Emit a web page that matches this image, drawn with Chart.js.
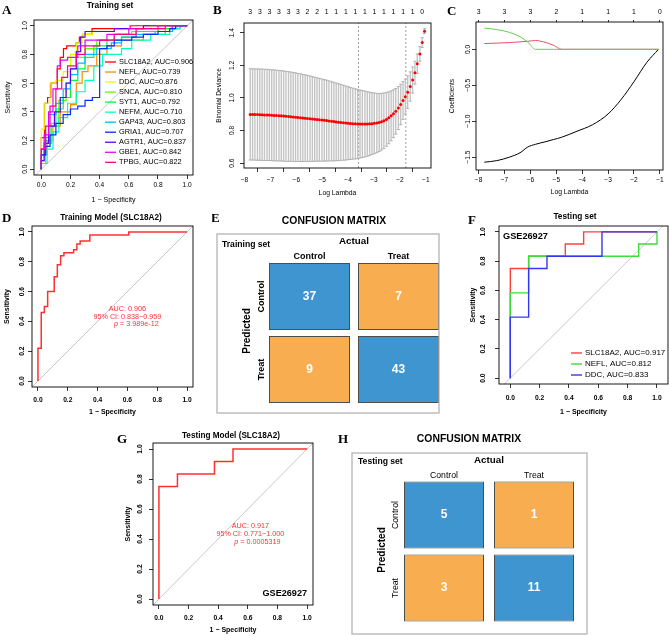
<!DOCTYPE html>
<html>
<head>
<meta charset="utf-8">
<title>ROC, LASSO and confusion matrix panels</title>
<script src="https://cdn.jsdelivr.net/npm/chart.js@4.4.1/dist/chart.umd.min.js"></script>
<style>
  html, body { margin: 0; padding: 0; background: #fff; }
  #fig { position: relative; width: 669px; height: 636px; overflow: hidden; background: #fff; }
  #fig canvas { position: absolute; }
</style>
</head>
<body>
<div id="fig"></div>
<script>
// ---------- data ----------
const rocTicks = [0, 0.2, 0.4, 0.6, 0.8, 1]

// A: training set ROC per gene, corners as [1 - specificity, sensitivity]
const trainGenes = ['SLC18A2', 'NEFL', 'DDC', 'SNCA', 'SYT1', 'NEFM', 'GAP43', 'GRIA1', 'AGTR1', 'GBE1', 'TPBG']
const trainAuc = ['0.906', '0.739', '0.876', '0.810', '0.792', '0.710', '0.803', '0.707', '0.837', '0.842', '0.822']
const geneColors = ['#FF0000', '#FF8B00', '#E8FF00', '#5DFF00', '#00FF2E', '#00FFB9',
  '#00B9FF', '#002EFF', '#5D00FF', '#E800FF', '#FF008B']

const rocSLC18A2 = [[0, 0], [0, .22], [.022, .46], [.043, .50], [.065, .60], [.109, .70], [.130, .78],
  [.152, .84], [.174, .86], [.239, .88], [.261, .92], [.283, .94], [.348, .98], [.609, 1], [1, 1]]
const rocNEFL = [[0, 0], [0, .1], [.04, .2], [.08, .3], [.13, .4], [.2, .45], [.24, .6], [.28, .68],
  [.32, .72], [.38, .8], [.45, .86], [.55, .9], [.7, .94], [.85, .98], [.89, 1], [1, 1]]
const rocDDC = [[0, 0], [0, .28], [.02, .46], [.06, .6], [.1, .62], [.15, .68], [.2, .8], [.24, .88],
  [.28, .94], [.35, .96], [.5, .98], [.75, 1], [1, 1]]
const rocSNCA = [[0, 0], [0, .04], [.03, .18], [.07, .32], [.12, .48], [.17, .6], [.2, .7], [.24, .78],
  [.3, .84], [.38, .9], [.5, .94], [.62, .96], [.8, .98], [.93, 1], [1, 1]]
const rocSYT1 = [[0, 0], [0, .06], [.02, .2], [.06, .3], [.1, .42], [.15, .5], [.2, .62], [.25, .7],
  [.3, .78], [.36, .86], [.45, .9], [.55, .92], [.65, .96], [.8, .98], [.95, 1], [1, 1]]
const rocNEFM = [[0, 0], [0, .04], [.04, .14], [.08, .26], [.12, .36], [.18, .46], [.24, .54], [.3, .62],
  [.36, .72], [.42, .8], [.55, .84], [.62, .9], [.75, .94], [.88, .98], [.95, 1], [1, 1]]
const rocGAP43 = [[0, 0], [0, .1], [.03, .22], [.05, .38], [.1, .46], [.15, .56], [.2, .66], [.25, .74],
  [.3, .8], [.38, .84], [.48, .88], [.55, .92], [.65, .94], [.78, .96], [.9, 1], [1, 1]]
const rocGRIA1 = [[0, 0], [0, .1], [.03, .16], [.06, .24], [.1, .32], [.15, .38], [.2, .42], [.25, .44],
  [.3, .48], [.35, .5], [.4, .84], [.45, .86], [.5, .9], [.62, .92], [.7, .94], [.8, .96], [.88, .98],
  [.92, 1], [1, 1]]
const rocAGTR1 = [[0, 0], [0, .06], [.02, .18], [.05, .3], [.09, .4], [.13, .5], [.17, .6], [.2, .7],
  [.24, .82], [.27, .92], [.3, .96], [.5, .98], [.7, 1], [1, 1]]
const rocGBE1 = [[0, 0], [0, .14], [.02, .24], [.05, .4], [.08, .56], [.11, .72], [.13, .76], [.18, .78],
  [.25, .86], [.3, .9], [.45, .94], [.6, .98], [.8, 1], [1, 1]]
const rocTPBG = [[0, 0], [0, .14], [.03, .3], [.06, .44], [.1, .56], [.14, .64], [.18, .72], [.24, .8],
  [.3, .86], [.4, .9], [.5, .94], [.65, .98], [.85, 1], [1, 1]]
const trainCurves = [rocSLC18A2, rocNEFL, rocDDC, rocSNCA, rocSYT1, rocNEFM, rocGAP43, rocGRIA1,
  rocAGTR1, rocGBE1, rocTPBG]
const trainStats = ['AUC: 0.906', '95% CI: 0.838\u22120.959', '3.989e-12']

// F / G: testing set (GSE26927)
const testGenes = ['SLC18A2', 'NEFL', 'DDC']
const testAuc = ['0.917', '0.812', '0.833']
const testColors = ['#FF4040', '#3CDC3C', '#3636F2']
const testSLC18A2 = [[0, 0], [0, .75], [.125, .833], [.375, .917], [.5, 1], [1, 1]]
const testNEFL = [[0, 0], [0, .583], [.125, .833], [.875, .917], [1, 1]]
const testDDC = [[0, 0], [0, .417], [.125, .75], [.25, .833], [.625, 1], [1, 1]]
const testStats = ['AUC: 0.917', '95% CI: 0.771\u22121.000', '0.0005319']

// B: cross-validated binomial deviance
const cvLogLambda = [
  -7.78, -7.69, -7.60, -7.50, -7.41, -7.32, -7.23, -7.13, -7.04, -6.95,
  -6.86, -6.77, -6.67, -6.58, -6.49, -6.40, -6.30, -6.21, -6.12, -6.03,
  -5.94, -5.84, -5.75, -5.66, -5.57, -5.47, -5.38, -5.29, -5.20, -5.11,
  -5.01, -4.92, -4.83, -4.74, -4.64, -4.55, -4.46, -4.37, -4.28, -4.18,
  -4.09, -4.00, -3.91, -3.82, -3.72, -3.63, -3.54, -3.45, -3.35, -3.26,
  -3.17, -3.08, -2.99, -2.89, -2.80, -2.71, -2.62, -2.52, -2.43, -2.34,
  -2.25, -2.16, -2.06, -1.97, -1.88, -1.79, -1.70, -1.60, -1.51, -1.42,
  -1.33, -1.23, -1.14, -1.05]
const cvMean = [
  0.899, 0.899, 0.898, 0.898, 0.897, 0.897, 0.896, 0.896, 0.895, 0.894,
  0.893, 0.892, 0.891, 0.890, 0.889, 0.887, 0.886, 0.885, 0.883, 0.882,
  0.880, 0.879, 0.877, 0.876, 0.874, 0.873, 0.871, 0.869, 0.868, 0.866,
  0.864, 0.863, 0.861, 0.859, 0.857, 0.855, 0.853, 0.851, 0.850, 0.848,
  0.846, 0.845, 0.843, 0.842, 0.841, 0.840, 0.840, 0.840, 0.840, 0.840,
  0.841, 0.842, 0.844, 0.846, 0.849, 0.854, 0.860, 0.868, 0.878, 0.890,
  0.903, 0.918, 0.938, 0.960, 0.984, 1.008, 1.035, 1.070, 1.110, 1.155,
  1.210, 1.270, 1.340, 1.410]
const cvSd = [
  0.280, 0.280, 0.280, 0.280, 0.280, 0.280, 0.280, 0.280, 0.279, 0.279,
  0.279, 0.278, 0.278, 0.277, 0.277, 0.276, 0.275, 0.274, 0.273, 0.272,
  0.270, 0.269, 0.267, 0.266, 0.264, 0.262, 0.260, 0.258, 0.256, 0.254,
  0.252, 0.250, 0.248, 0.246, 0.243, 0.241, 0.238, 0.236, 0.233, 0.230,
  0.227, 0.224, 0.221, 0.218, 0.215, 0.212, 0.208, 0.205, 0.202, 0.198,
  0.194, 0.190, 0.186, 0.182, 0.178, 0.174, 0.170, 0.165, 0.159, 0.153,
  0.147, 0.140, 0.132, 0.124, 0.116, 0.108, 0.100, 0.090, 0.080, 0.070,
  0.060, 0.045, 0.030, 0.015]
const cvNzeroTop = ['3', '3', '3', '3', '3', '3', '2', '2', '1', '1', '1', '1', '1', '1', '1', '1', '1', '1', '0']
const cvLambdaMin = -3.60
const cvLambda1se = -1.77
const lambdaTicks = [-8, -7, -6, -5, -4, -3, -2, -1]
const devianceTicks = [0.6, 0.8, 1.0, 1.2, 1.4]

// C: coefficient paths
const pathLogLambda = [-7.78, -7.3, -6.8, -6.4, -6.1, -5.8, -5.4, -5.1, -4.8, -4.2, -3.6, -3.0, -2.5, -2.0, -1.5, -1.05]
const pathBlack = [-1.571, -1.55, -1.50, -1.44, -1.36, -1.322, -1.285, -1.255, -1.225, -1.14, -1.05, -0.90, -0.70, -0.45, -0.18, 0]
const pathRed = [0.08, 0.086, 0.094, 0.104, 0.112, 0.122, 0.094, 0.055, 0, 0, 0, 0, 0, 0, 0, 0]
const pathGreen = [0.295, 0.275, 0.235, 0.175, 0.10, 0, 0, 0, 0, 0, 0, 0, 0, 0, 0, 0]
const pathDf = ['3', '3', '3', '2', '1', '1', '1', '0']
const coefTicks = [-1.5, -1.0, -0.5, 0]

// E / H: confusion matrices, rows = predicted, columns = actual
const cmLabels = ['Control', 'Treat']
const cmTrain = [[37, 7], [9, 43]]
const cmTest = [[5, 1], [3, 11]]

// ---------- setup ----------
const SANS = '"Liberation Sans", Arial, Helvetica, sans-serif'
const SERIF = '"Liberation Serif", "Times New Roman", Times, serif'
Chart.defaults.font.family = SANS
Chart.defaults.color = '#000'
Chart.defaults.animation = false
Chart.defaults.responsive = false
Chart.defaults.plugins.legend.display = false
Chart.defaults.plugins.tooltip.enabled = false

const fig = document.getElementById('fig')
const decor = {}
const minus = s => String(s).replace('-', '\u2212')
const fnt = (size, weight, family) => `${weight || 'normal'} ${size}px ${family || SANS}`
const cfont = (size, weight) => ({ family: SANS, size, weight: weight || 'normal' })

function place(id, r) {
  const c = document.createElement('canvas')
  c.id = id
  c.width = r.w
  c.height = r.h
  c.style.left = r.x + 'px'
  c.style.top = r.y + 'px'
  c.style.width = r.w + 'px'
  c.style.height = r.h + 'px'
  fig.appendChild(c)
  return c
}

function label(ctx, text, x, y, font, color, align, rot) {
  ctx.save()
  ctx.translate(x, y)
  if (rot) ctx.rotate(rot)
  ctx.font = font
  ctx.fillStyle = color || '#000'
  ctx.textAlign = align || 'center'
  ctx.textBaseline = 'middle'
  ctx.fillText(text, 0, 0)
  ctx.restore()
}

// centred text made of plain / italic pieces
function rich(ctx, segs, cx, cy, size, color) {
  const fonts = segs.map(s => fnt(size, s.it ? 'italic' : 'normal'))
  const widths = segs.map((s, i) => { ctx.font = fonts[i]; return ctx.measureText(s.t).width })
  let x = cx - widths.reduce((a, b) => a + b, 0) / 2
  segs.forEach((s, i) => { label(ctx, s.t, x, cy, fonts[i], color, 'left'); x += widths[i] })
}

Chart.register({
  id: 'decor',
  afterDraw(chart) {
    const d = decor[chart.canvas.id]
    if (!d) return
    const ctx = chart.ctx
    const a = chart.chartArea
    const ox = d.region.x, oy = d.region.y
    ctx.save()
    if (d.box) {
      ctx.strokeStyle = '#000'
      ctx.lineWidth = 0.9
      ctx.strokeRect(a.left, a.top, a.right - a.left, a.bottom - a.top)
    }
    if (d.frame) {
      const f = d.frame
      ctx.strokeStyle = '#B4B4B4'
      ctx.lineWidth = 1.3
      ctx.strokeRect(f.l - ox, f.t - oy, f.r - f.l, f.b - f.t)
    }
    if (d.yLabels) {
      const s = chart.scales.y
      s.ticks.forEach(t => label(ctx, d.yLabels.fmt(t.value), d.yLabels.x - ox,
        s.getPixelForValue(t.value), d.yLabels.font, '#000', 'center', -Math.PI / 2))
    }
    if (d.legend) {
      const l = d.legend
      l.items.forEach((it, i) => {
        const y = l.y0 + i * l.dy - oy
        ctx.strokeStyle = it.color
        ctx.lineWidth = l.lw
        ctx.beginPath()
        ctx.moveTo(l.x1 - ox, y)
        ctx.lineTo(l.x2 - ox, y)
        ctx.stroke()
        label(ctx, it.label, l.tx - ox, y, l.font, '#000', 'left')
      })
    }
    if (d.notes) {
      const xs = chart.scales.x, ys = chart.scales.y
      d.notes.forEach(n => rich(ctx, n.segs, xs.getPixelForValue(n.x), ys.getPixelForValue(n.y), 7.2, '#FF3030'))
    }
    if (d.cells) {
      const c = d.cells
      const xs = chart.scales.x, ys = chart.scales.y
      c.counts.forEach((row, r) => {
        const meta = chart.getDatasetMeta(r)
        row.forEach((n, j) => {
          const p = meta.data[j].getCenterPoint()
          label(ctx, String(n), p.x, p.y, fnt(12, 'bold'), '#fff')
        })
      })
      cmLabels.forEach((name, j) => label(ctx, name, xs.getPixelForTick(j), c.colY - oy, c.labelFont))
      cmLabels.forEach((name, r) => label(ctx, name, c.rowX - ox,
        ys.getPixelForValue(cmLabels.length - 1 - r), c.labelFont, '#000', 'center', -Math.PI / 2))
    }
    ;(d.texts || []).forEach(t => label(ctx, t.text, t.x - ox, t.y - oy, t.font, t.color, t.align, t.rot))
    ctx.restore()
  }
})

// R-style axis: ticks only, labels, fixed size
function axis(o) {
  const horiz = o.position === 'top' || o.position === 'bottom'
  const ticks = { display: !o.hideLabels, autoSkip: false, maxRotation: 0, minRotation: 0,
    padding: o.pad || 0, color: '#000', font: o.font }
  if (o.fmt) ticks.callback = o.fmt
  return {
    type: 'linear', position: o.position, min: o.min, max: o.max, offset: false, bounds: 'data',
    afterBuildTicks: s => { s.ticks = o.at.map(v => ({ value: v })) },
    afterFit: s => { if (horiz) s.height = o.size; else s.width = o.size },
    ticks,
    grid: { display: !!o.tick, drawOnChartArea: false, drawTicks: !!o.tick, tickLength: o.tick || 0,
      color: '#000', lineWidth: 0.8 },
    border: { display: false },
    title: o.title
      ? { display: true, text: o.title, color: '#000', font: o.titleFont,
          padding: o.position === 'bottom' ? { top: 0, bottom: o.titlePad } : { top: o.titlePad, bottom: 0 } }
      : { display: false }
  }
}

function rocChart(id, p) {
  const r = p.region, b = p.box
  const wt = p.bold ? 'bold' : 'normal'
  const lh = p.axisSize * 1.2
  const datasets = p.curves.map((c, i) => ({
    type: 'line',
    data: c.map(([x, y]) => ({ x, y })),
    borderColor: p.colors[i],
    borderWidth: p.lineWidth,
    pointRadius: 0,
    stepped: 'before',
    order: p.curves.length - i
  }))
  datasets.push({
    type: 'line',
    data: [{ x: p.xMin, y: p.xMin }, { x: p.xMax, y: p.xMax }],
    borderColor: '#C8C8C8', borderWidth: 1, pointRadius: 0, order: 100
  })
  decor[id] = {
    region: r, box: true, texts: p.texts, legend: p.legend, notes: p.notes,
    yLabels: { x: p.yLabelX, font: fnt(p.tickSize, wt), fmt: v => v.toFixed(1) }
  }
  new Chart(place(id, r), {
    type: 'scatter',
    data: { datasets },
    options: {
      layout: { padding: { left: 0, top: b.t - r.y, right: r.x + r.w - b.r, bottom: 0 } },
      scales: {
        x: axis({ position: 'bottom', min: p.xMin, max: p.xMax, at: rocTicks, fmt: v => v.toFixed(1),
          size: r.y + r.h - b.b, font: cfont(p.tickSize, wt), pad: p.xPad, tick: 4,
          title: '1 \u2212 Specificity', titleFont: cfont(p.axisSize, wt),
          titlePad: r.y + r.h - p.xTitleY - lh / 2 }),
        y: axis({ position: 'left', min: -0.04, max: 1.04, at: rocTicks, hideLabels: true,
          size: b.l - r.x, tick: 4, title: 'Sensitivity', titleFont: cfont(p.axisSize, wt),
          titlePad: p.yTitleX - r.x - lh / 2 })
      }
    }
  })
}

function cmChart(id, p) {
  const rows = cmLabels.length
  const half = 0.46
  const datasets = p.counts.map((row, r) => ({
    type: 'bar',
    data: row.map(() => [rows - 1 - r - half, rows - 1 - r + half]),
    backgroundColor: row.map((_, j) => j === r ? '#3E95D0' : '#F7AD50'),
    borderColor: '#4D4D4D',
    borderWidth: 1,
    borderSkipped: false,
    barPercentage: p.barPct,
    categoryPercentage: 1,
    grouped: false
  }))
  decor[id] = {
    region: p.region, frame: p.frame, texts: p.texts,
    cells: { counts: p.counts, colY: p.colY, rowX: p.rowX, labelFont: p.labelFont }
  }
  new Chart(place(id, p.region), {
    type: 'bar',
    data: { labels: cmLabels, datasets },
    options: {
      layout: { padding: p.padding },
      scales: {
        x: { type: 'category', display: false, offset: true },
        y: { type: 'linear', display: false, min: -0.5, max: 1.5 }
      }
    }
  })
}

// ---------- A ----------
rocChart('cA', {
  region: { x: 0, y: 0, w: 220, h: 210 }, box: { l: 34, t: 20, r: 193, b: 175 },
  xMin: -0.05, xMax: 1.04, bold: false, tickSize: 6.6, axisSize: 7.1, xPad: 2,
  yLabelX: 25, yTitleX: 8.3, xTitleY: 200,
  curves: trainCurves, colors: geneColors, lineWidth: 1.2,
  legend: { x1: 105, x2: 116, tx: 119, y0: 62, dy: 10.03, lw: 1.3, font: fnt(7.4),
    items: trainGenes.map((g, i) => ({ label: `${g}, AUC=${trainAuc[i]}`, color: geneColors[i] })) },
  texts: [
    { text: 'A', x: 2, y: 11, font: fnt(13, 'bold', SERIF), align: 'left' },
    { text: 'Training set', x: 110, y: 6, font: fnt(8.3, 'bold') }
  ]
})

// ---------- B ----------
;(function () {
  const id = 'cB'
  const r = { x: 210, y: 0, w: 235, h: 210 }, b = { l: 244, t: 23, r: 431, b: 168 }
  const xMin = -8.02, xMax = -0.8, yMin = 0.57, yMax = 1.46
  const grey = '#C4C4C4'
  const lh = 6.8 * 1.2
  const vline = x => ({ type: 'line', data: [{ x, y: yMin }, { x, y: yMax }], borderColor: '#8A8A8A',
    borderWidth: 0.8, borderDash: [2, 2], pointRadius: 0, order: 6 })
  decor[id] = {
    region: r, box: true,
    yLabels: { x: 232, font: fnt(6.6), fmt: v => v.toFixed(1) },
    texts: [{ text: 'B', x: 213, y: 11, font: fnt(13, 'bold', SERIF), align: 'left' }]
  }
  new Chart(place(id, r), {
    type: 'scatter',
    data: {
      datasets: [
        { type: 'scatter', data: cvLogLambda.map((x, i) => ({ x, y: cvMean[i] })),
          pointRadius: 1.5, backgroundColor: '#FF0000', borderWidth: 0, order: 0 },
        { type: 'scatter', data: cvLogLambda.flatMap((x, i) => [{ x, y: cvMean[i] - cvSd[i] }, { x, y: cvMean[i] + cvSd[i] }]),
          pointStyle: 'line', pointRadius: 1.6, borderColor: '#B0B0B0', borderWidth: 0.9, order: 2 },
        { type: 'bar', data: cvLogLambda.map((x, i) => ({ x, y: [cvMean[i] - cvSd[i], cvMean[i] + cvSd[i]] })),
          backgroundColor: grey, barThickness: 0.75, borderWidth: 0, order: 3 },
        vline(cvLambdaMin),
        vline(cvLambda1se)
      ]
    },
    options: {
      layout: { padding: { left: 0, top: 0, right: r.x + r.w - b.r, bottom: 0 } },
      scales: {
        x: axis({ position: 'bottom', min: xMin, max: xMax, at: lambdaTicks, fmt: minus,
          size: r.h - b.b, font: cfont(6.6), pad: 4, tick: 4,
          title: 'Log Lambda', titleFont: cfont(6.8), titlePad: r.h - 193 - lh / 2 }),
        xt: axis({ position: 'top', min: xMin, max: xMax, at: cvLogLambda.filter((_, i) => i % 4 === 0),
          fmt: (v, i) => cvNzeroTop[i], size: b.t - r.y, font: cfont(6.8), pad: 6.8, tick: 0 }),
        y: axis({ position: 'left', min: yMin, max: yMax, at: devianceTicks, hideLabels: true,
          size: b.l - r.x, tick: 4, title: 'Binomial Deviance', titleFont: cfont(6.6),
          titlePad: 219.5 - r.x - 6.6 * 0.6 })
      }
    }
  })
})()

// ---------- C ----------
;(function () {
  const id = 'cC'
  const r = { x: 445, y: 0, w: 224, h: 210 }, b = { l: 476, t: 22, r: 663, b: 170 }
  const xMin = -8.1, xMax = -0.88, yMin = -1.68, yMax = 0.38
  const lh = 6.8 * 1.2
  const path = (vals, color, order) => ({ type: 'line', data: pathLogLambda.map((x, i) => ({ x, y: vals[i] })),
    borderColor: color, borderWidth: 1, pointRadius: 0, cubicInterpolationMode: 'monotone', order })
  decor[id] = {
    region: r, box: true,
    yLabels: { x: 467.7, font: fnt(6.6), fmt: v => minus(v.toFixed(1)) },
    texts: [{ text: 'C', x: 447, y: 12, font: fnt(13, 'bold', SERIF), align: 'left' }]
  }
  new Chart(place(id, r), {
    type: 'scatter',
    data: { datasets: [path(pathGreen, '#61D04F', 0), path(pathRed, '#DF536B', 1), path(pathBlack, '#000000', 2)] },
    options: {
      layout: { padding: { left: 0, top: 0, right: r.x + r.w - b.r, bottom: 0 } },
      scales: {
        x: axis({ position: 'bottom', min: xMin, max: xMax, at: lambdaTicks, fmt: minus,
          size: r.h - b.b, font: cfont(6.6), pad: 2, tick: 4,
          title: 'Log Lambda', titleFont: cfont(6.8), titlePad: r.h - 192 - lh / 2 }),
        xt: axis({ position: 'top', min: xMin, max: xMax, at: lambdaTicks,
          fmt: (v, i) => pathDf[i], size: b.t - r.y, font: cfont(6.8), pad: 3.8, tick: 2 }),
        y: axis({ position: 'left', min: yMin, max: yMax, at: coefTicks, hideLabels: true,
          size: b.l - r.x, tick: 4, title: 'Coefficients', titleFont: cfont(6.6),
          titlePad: 452 - r.x - 6.6 * 0.6 })
      }
    }
  })
})()

// ---------- D ----------
rocChart('cD', {
  region: { x: 0, y: 210, w: 215, h: 208 }, box: { l: 32, t: 226, r: 193, b: 387 },
  xMin: -0.04, xMax: 1.04, bold: true, tickSize: 6.7, axisSize: 7, xPad: 5,
  yLabelX: 22, yTitleX: 7, xTitleY: 412,
  curves: [rocSLC18A2], colors: ['#FF3030'], lineWidth: 1.5,
  notes: [
    { segs: [{ t: trainStats[0] }], x: 0.60, y: 0.48 },
    { segs: [{ t: trainStats[1] }], x: 0.60, y: 0.43 },
    { segs: [{ t: 'p', it: true }, { t: ' = ' + trainStats[2] }], x: 0.66, y: 0.38 }
  ],
  texts: [
    { text: 'D', x: 2, y: 219, font: fnt(13, 'bold', SERIF), align: 'left' },
    { text: 'Training Model (SLC18A2)', x: 111, y: 217.5, font: fnt(8.2, 'bold') }
  ]
})

// ---------- E ----------
cmChart('cE', {
  region: { x: 212, y: 210, w: 233, h: 208 },
  padding: { left: 53, top: 50, right: 2, bottom: 12 },
  frame: { l: 217, t: 234, r: 439, b: 413 },
  counts: cmTrain, barPct: 0.91, colY: 257, rowX: 262, labelFont: fnt(9, 'bold'),
  texts: [
    { text: 'E', x: 211, y: 219, font: fnt(13, 'bold', SERIF), align: 'left' },
    { text: 'CONFUSION MATRIX', x: 334, y: 221, font: fnt(10.4, 'bold') },
    { text: 'Training set', x: 222, y: 245, font: fnt(8.6, 'bold'), align: 'left' },
    { text: 'Actual', x: 354, y: 241, font: fnt(9.8, 'bold') },
    { text: 'Predicted', x: 247, y: 331, font: fnt(10, 'bold'), rot: -Math.PI / 2 }
  ]
})

// ---------- F ----------
rocChart('cF', {
  region: { x: 442, y: 210, w: 227, h: 208 }, box: { l: 499, t: 226, r: 668, b: 384 },
  xMin: -0.077, xMax: 1.075, bold: true, tickSize: 6.7, axisSize: 7, xPad: 6,
  yLabelX: 483.5, yTitleX: 473, xTitleY: 412,
  curves: [testSLC18A2, testNEFL, testDDC], colors: testColors, lineWidth: 1.4,
  legend: { x1: 571, x2: 582, tx: 585, y0: 353, dy: 11, lw: 1.4, font: fnt(8),
    items: testGenes.map((g, i) => ({ label: `${g}, AUC=${testAuc[i]}`, color: testColors[i] })) },
  texts: [
    { text: 'F', x: 468, y: 221, font: fnt(13, 'bold', SERIF), align: 'left' },
    { text: 'Testing set', x: 575, y: 217, font: fnt(8.3, 'bold') },
    { text: 'GSE26927', x: 503, y: 236, font: fnt(9.2, 'bold'), align: 'left' }
  ]
})

// ---------- G ----------
rocChart('cG', {
  region: { x: 105, y: 425, w: 225, h: 211 }, box: { l: 153, t: 443, r: 313, b: 605 },
  xMin: -0.04, xMax: 1.04, bold: true, tickSize: 6.7, axisSize: 7, xPad: 5,
  yLabelX: 140.3, yTitleX: 128.3, xTitleY: 630,
  curves: [testSLC18A2], colors: ['#FF3030'], lineWidth: 1.5,
  notes: [
    { segs: [{ t: testStats[0] }], x: 0.617, y: 0.486 },
    { segs: [{ t: testStats[1] }], x: 0.617, y: 0.432 },
    { segs: [{ t: 'p', it: true }, { t: ' = ' + testStats[2] }], x: 0.664, y: 0.378 }
  ],
  texts: [
    { text: 'G', x: 117, y: 440, font: fnt(13, 'bold', SERIF), align: 'left' },
    { text: 'Testing Model (SLC18A2)', x: 231, y: 436, font: fnt(8.2, 'bold') },
    { text: 'GSE26927', x: 307, y: 593.5, font: fnt(9.1, 'bold'), align: 'right' }
  ]
})

// ---------- H ----------
cmChart('cH', {
  region: { x: 330, y: 425, w: 339, h: 211 },
  padding: { left: 69, top: 53.5, right: 90, bottom: 11.5 },
  frame: { l: 352, t: 453, r: 587, b: 634 },
  counts: cmTest, barPct: 0.889, colY: 476, rowX: 396, labelFont: fnt(8.7),
  texts: [
    { text: 'H', x: 338, y: 440, font: fnt(13, 'bold', SERIF), align: 'left' },
    { text: 'CONFUSION MATRIX', x: 469, y: 439, font: fnt(10.4, 'bold') },
    { text: 'Testing set', x: 358, y: 462, font: fnt(8.6, 'bold'), align: 'left' },
    { text: 'Actual', x: 489, y: 460, font: fnt(9.8, 'bold') },
    { text: 'Predicted', x: 382, y: 550, font: fnt(10, 'bold'), rot: -Math.PI / 2 }
  ]
})
</script>
</body>
</html>
